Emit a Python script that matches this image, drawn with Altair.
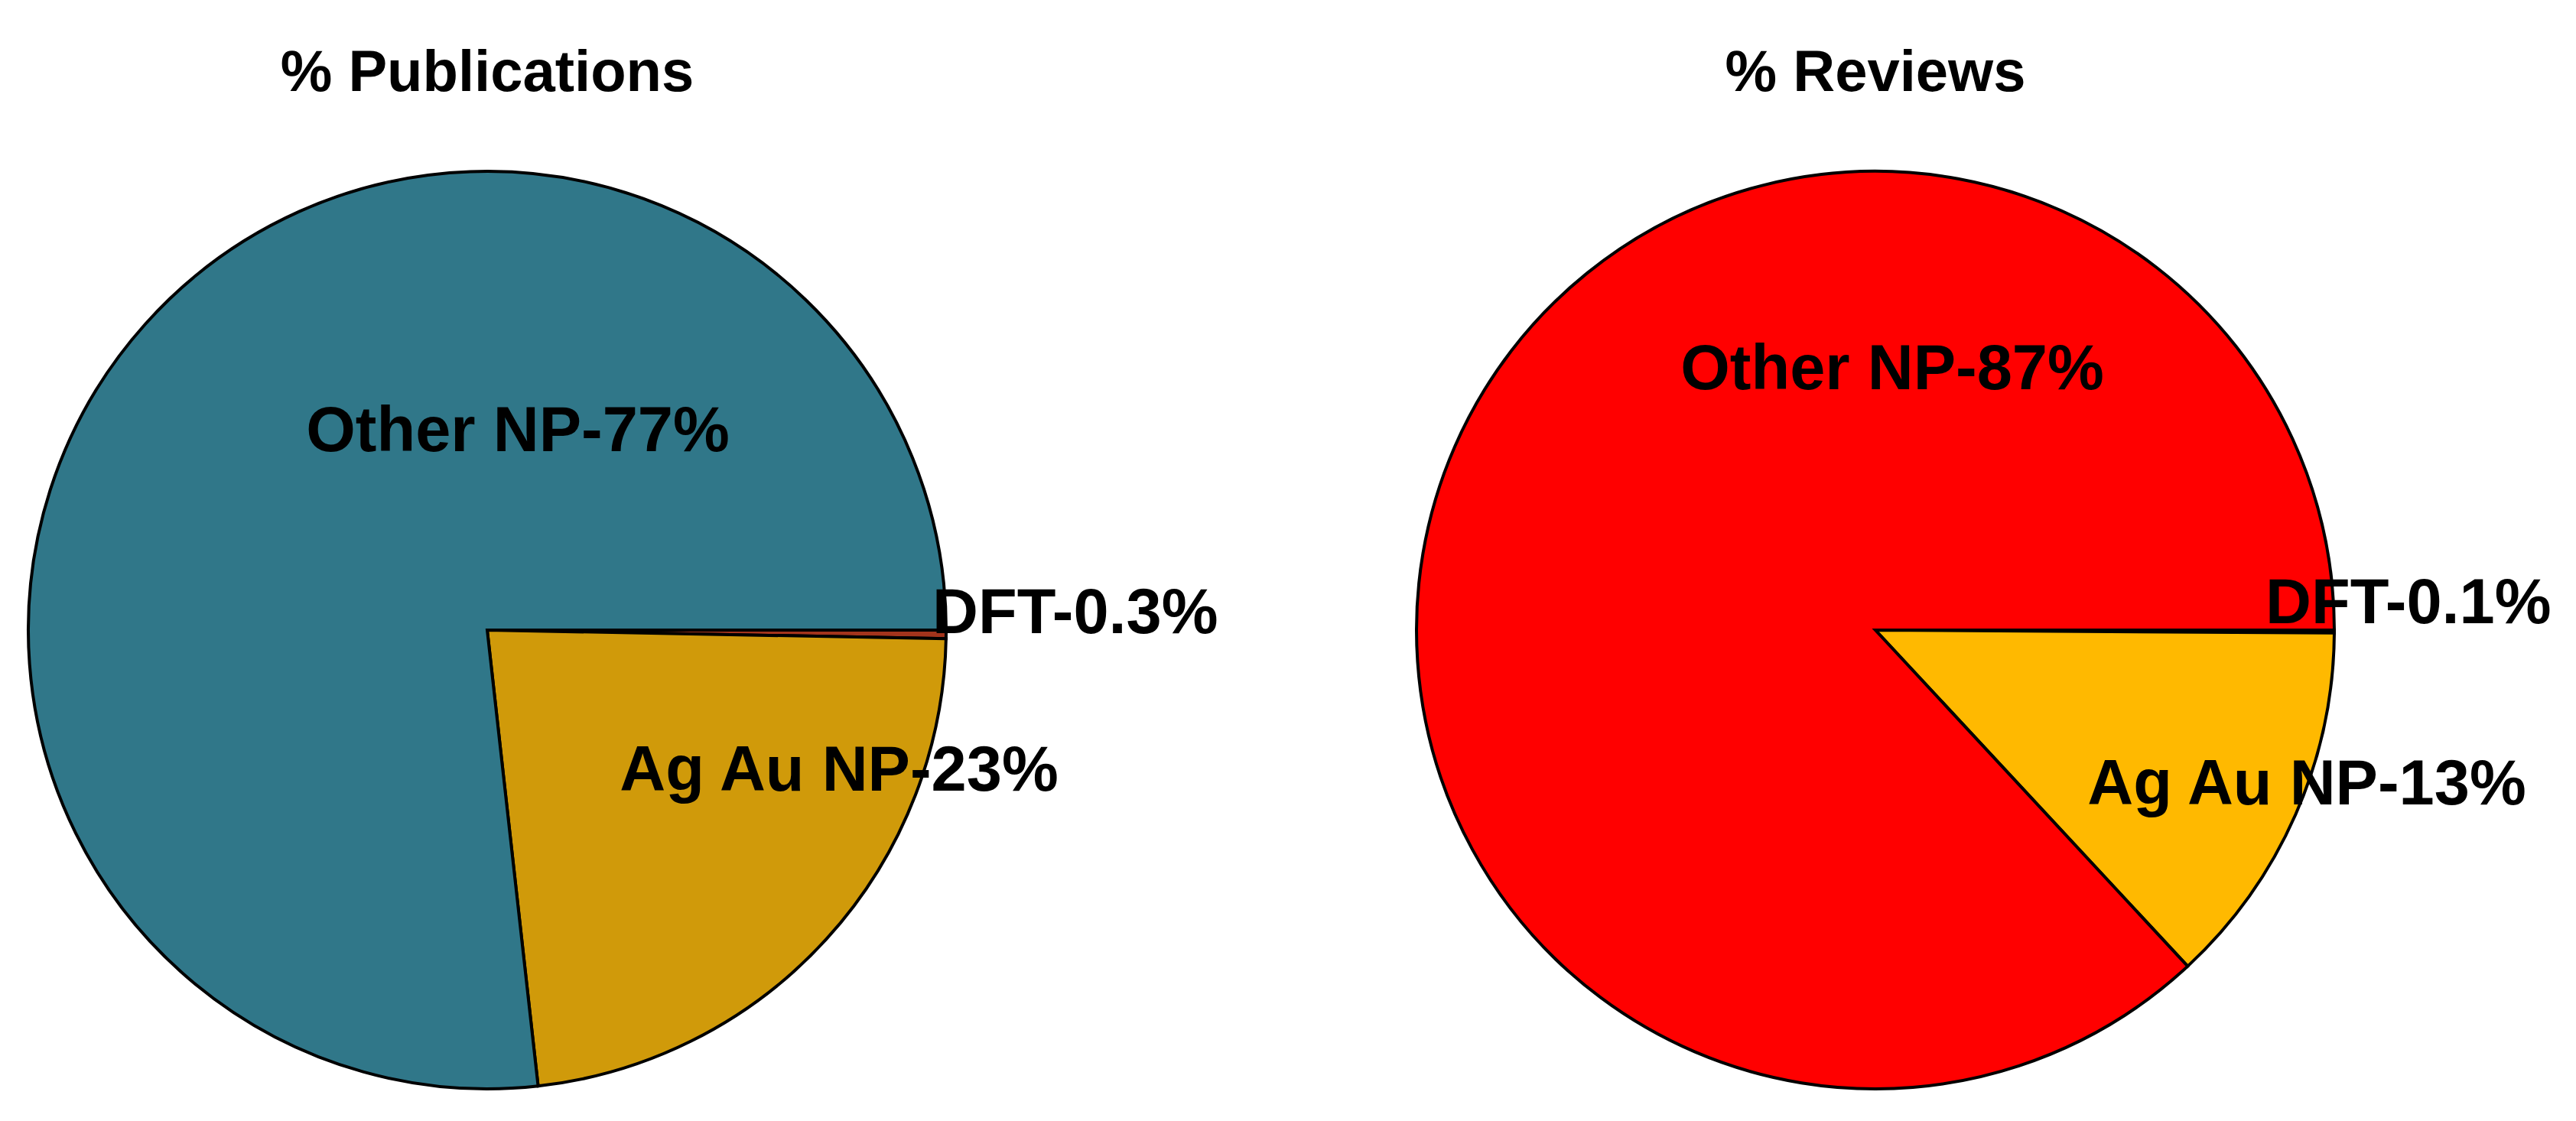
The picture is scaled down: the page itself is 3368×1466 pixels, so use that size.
import math
import altair as alt
import pandas as pd

# slice order: clockwise from 3 o'clock
categories = ["DFT", "Ag Au NP", "Other NP"]
publications = [0.3, 23, 77]
reviews = [0.1, 13, 87]

pub_colors = ["#A3341C", "#D09A0A", "#307789"]
rev_colors = ["#1A1A1A", "#FFB900", "#FF0000"]

# label placement, px from the pie centre: (dx, dy of baseline, align)
pub_labels = {"Other NP": (40, -234, "center"), "DFT": (582, 4, "left"), "Ag Au NP": (460, 210, "center")}
rev_labels = {"Other NP": (22, -315, "center"), "DFT": (510, -9, "left"), "Ag Au NP": (564, 228, "center")}

SIZE = 1258
R = 600
FONT = "Liberation Sans"


def pie(title, values, colors, labels):
    df = pd.DataFrame({"category": categories, "value": values, "order": list(range(len(categories)))})
    base = alt.Chart(df)

    arc = base.mark_arc(radius=R, stroke="black", strokeWidth=4).encode(
        theta=alt.Theta("value:Q", stack=True, scale=alt.Scale(range=[math.pi / 2, 2.5 * math.pi])),
        order=alt.Order("order:Q"),
        color=alt.Color("category:N", scale=alt.Scale(domain=categories, range=colors), legend=None),
    )

    layers = [arc]
    for cat, (dx, dy, align) in labels.items():
        txt = base.transform_filter(
            alt.datum.category == cat
        ).transform_calculate(
            label=alt.datum.category + "-" + alt.datum.value + "%"
        ).mark_text(
            align=align, baseline="alphabetic", font=FONT, fontWeight="bold", fontSize=83, color="black"
        ).encode(
            x=alt.value(SIZE / 2 + dx),
            y=alt.value(SIZE / 2 + dy),
            text="label:N",
        )
        layers.append(txt)

    return alt.layer(
        *layers,
        title=alt.Title(title, font=FONT, fontSize=76, fontWeight="bold", color="black", anchor="middle", offset=60),
    ).properties(width=SIZE, height=SIZE)


chart = alt.hconcat(
    pie("% Publications", publications, pub_colors, pub_labels),
    pie("% Reviews", reviews, rev_colors, rev_labels),
    spacing=557,
    bounds="flush",
).resolve_scale(
    color="independent", theta="independent"
).properties(
    padding={"left": 0, "top": 50, "right": 0, "bottom": 0}
).configure_view(strokeWidth=0)

chart.save("out.html", embed_options={"renderer": "svg", "actions": False})
